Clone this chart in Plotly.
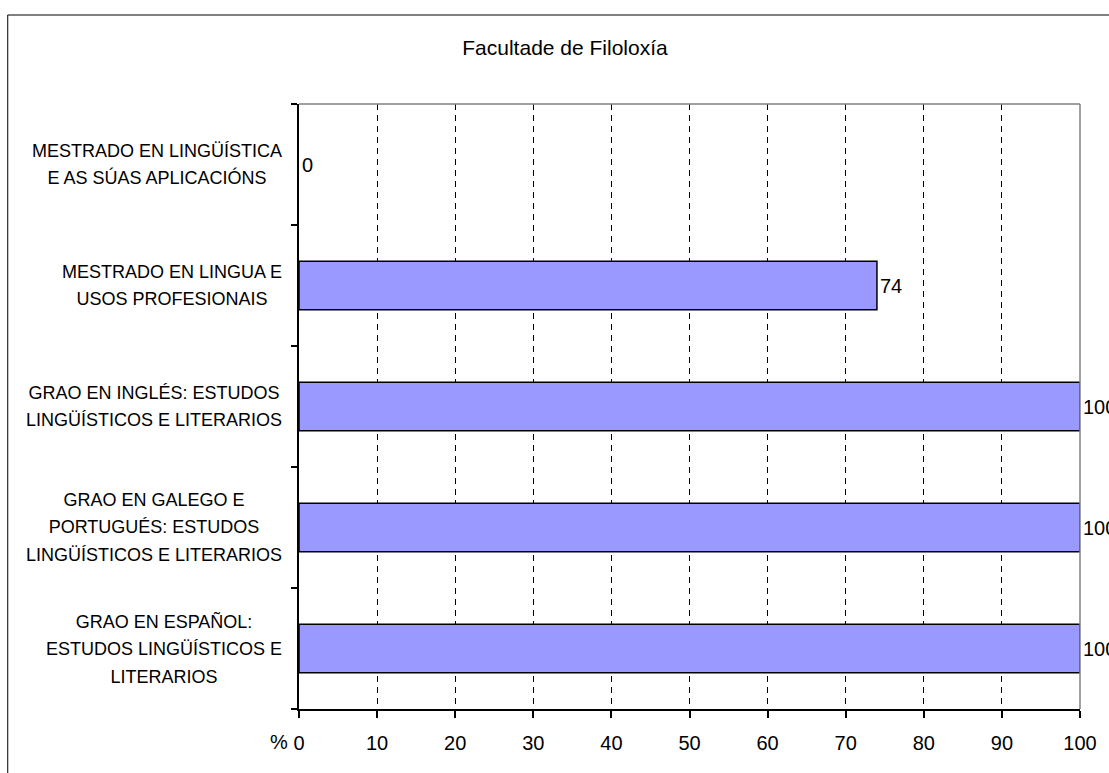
import plotly.graph_objects as go

# Data (listed bottom to top, as Plotly draws categories upward)
categories = [
    "GRAO EN ESPAÑOL:<br>ESTUDOS LINGÜÍSTICOS E<br>LITERARIOS",
    "GRAO EN GALEGO E<br>PORTUGUÉS: ESTUDOS<br>LINGÜÍSTICOS E LITERARIOS",
    "GRAO EN INGLÉS: ESTUDOS<br>LINGÜÍSTICOS E LITERARIOS",
    "MESTRADO EN LINGUA E<br>USOS PROFESIONAIS",
    "MESTRADO EN LINGÜÍSTICA<br>E AS SÚAS APLICACIÓNS",
]
values = [100, 100, 100, 74, 0]
x_ticks = [0, 10, 20, 30, 40, 50, 60, 70, 80, 90, 100]
title_text = "Facultade de Filoloxía"
unit_label = "%"

FONT = "Arial, Liberation Sans, sans-serif"
W, H = 1109, 773
L, R, T, B = 299, 27, 104, 64
pw, ph = W - L - R, H - T - B

fig = go.Figure()
fig.add_trace(go.Bar(
    y=categories, x=values, orientation="h",
    marker=dict(color="#9999FF",
                line=dict(color="black", width=[1.5 if v > 0 else 0 for v in values])),
    text=[str(v) for v in values], textposition="outside",
    textfont=dict(family=FONT, size=20, color="black"),
    cliponaxis=False, showlegend=False, hoverinfo="skip",
))

# centred multi-line category labels
for cat in categories:
    lines = cat.split("<br>")
    txt = "<br>".join(f"<span style='font-size:18px'>{ln}</span>" for ln in lines)
    fig.add_annotation(
        x=0, xref="paper", y=cat, yref="y", text=txt,
        xanchor="right", yanchor="middle", align="center", xshift=-15,
        showarrow=False, font=dict(family=FONT, size=21, color="black"),
    )

fig.add_annotation(
    x=0, xref="paper", y=(H - B - 742) / ph, yref="paper", text=unit_label,
    xanchor="right", yanchor="middle", xshift=-9, showarrow=False,
    font=dict(family=FONT, size=20, color="black"),
)

# outer chart border and plot-area top/right edges
fig.add_shape(type="rect", xref="paper", yref="paper",
              x0=(7 - L) / pw, x1=1.1, y0=-0.2, y1=(H - B - 15) / ph,
              line=dict(color="black", width=1), layer="below")
fig.add_shape(type="line", xref="paper", yref="paper", x0=0, x1=1, y0=1, y1=1,
              line=dict(color="#808080", width=1.5))
fig.add_shape(type="line", xref="paper", yref="paper", x0=1, x1=1, y0=0, y1=1,
              line=dict(color="#808080", width=1.5))

fig.update_layout(
    width=W, height=H,
    margin=dict(l=L, r=R, t=T, b=B, pad=0),
    paper_bgcolor="white", plot_bgcolor="white",
    bargap=0.6,
    title=dict(text=title_text, x=565 / W, xanchor="center", y=1 - 48 / H, yanchor="middle",
               font=dict(family=FONT, size=21, color="black")),
    xaxis=dict(range=[0, 100], tickvals=x_ticks, ticktext=[str(t) for t in x_ticks],
               showgrid=True, gridcolor="black", gridwidth=1, griddash="6px,5px",
               showline=True, linecolor="black", linewidth=1.5,
               ticks="outside", ticklen=7, tickcolor="black", tickwidth=1.5,
               ticklabelstandoff=8,
               tickfont=dict(family=FONT, size=20, color="black"), zeroline=False,
               fixedrange=True),
    yaxis=dict(categoryorder="array", categoryarray=categories,
               showticklabels=False, showgrid=False, zeroline=False,
               showline=True, linecolor="black", linewidth=1.5,
               ticks="outside", ticklen=6, tickcolor="black", tickwidth=1.5,
               tickson="boundaries", fixedrange=True),
    font=dict(family=FONT, color="black"),
)

fig.write_html("out.html", config={"displayModeBar": False},
               post_script="document.body.style.margin='0px';")
